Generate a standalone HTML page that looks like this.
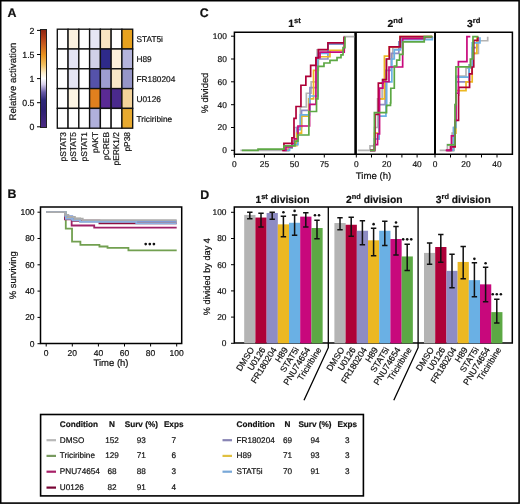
<!DOCTYPE html><html><head><meta charset="utf-8"><style>html,body{margin:0;padding:0;background:#fff;width:520px;height:504px;overflow:hidden}svg{display:block;will-change:transform}text{font-family:"Liberation Sans",sans-serif;fill:#111;stroke:#111;stroke-width:0.2px;text-rendering:geometricPrecision}</style></head><body>
<div id="w"><svg width="520" height="504" viewBox="0 0 520 504">
<rect x="0" y="0" width="520" height="504" fill="#fff"/>
<rect x="0.7" y="0.7" width="518.4" height="502.4" fill="none" stroke="#000" stroke-width="1.6"/>
<text x="7.6" y="17" font-size="12.4" font-weight="bold">A</text>
<text x="7.4" y="198" font-size="12.4" font-weight="bold">B</text>
<text x="199.8" y="17.2" font-size="12.4" font-weight="bold">C</text>
<text x="200.3" y="198.7" font-size="12.4" font-weight="bold">D</text>
<defs><linearGradient id="cb" x1="0" y1="0" x2="0" y2="1"><stop offset="0" stop-color="#8a2410"/><stop offset="0.08" stop-color="#b03c18"/><stop offset="0.18" stop-color="#d06a20"/><stop offset="0.26" stop-color="#e8921e"/><stop offset="0.36" stop-color="#f2c060"/><stop offset="0.44" stop-color="#fcecc8"/><stop offset="0.5" stop-color="#ffffff"/><stop offset="0.56" stop-color="#d8d0ec"/><stop offset="0.64" stop-color="#6a5ca8"/><stop offset="0.72" stop-color="#2e2878"/><stop offset="0.82" stop-color="#2c2070"/><stop offset="1" stop-color="#4c2a84"/></linearGradient></defs>
<rect x="40.5" y="29.5" width="6" height="98" fill="url(#cb)" stroke="#222" stroke-width="1"/>
<line x1="37" y1="126.8" x2="40.5" y2="126.8" stroke="#000" stroke-width="1"/>
<text x="34.5" y="129.9" font-size="8.8" text-anchor="end">0</text>
<line x1="37" y1="102.7" x2="40.5" y2="102.7" stroke="#000" stroke-width="1"/>
<text x="34.5" y="105.8" font-size="8.8" text-anchor="end">0.5</text>
<line x1="37" y1="78.6" x2="40.5" y2="78.6" stroke="#000" stroke-width="1"/>
<text x="34.5" y="81.7" font-size="8.8" text-anchor="end">1</text>
<line x1="37" y1="54.5" x2="40.5" y2="54.5" stroke="#000" stroke-width="1"/>
<text x="34.5" y="57.6" font-size="8.8" text-anchor="end">1.5</text>
<line x1="37" y1="30.4" x2="40.5" y2="30.4" stroke="#000" stroke-width="1"/>
<text x="34.5" y="33.5" font-size="8.8" text-anchor="end">2</text>
<text transform="translate(16.3,81.5) rotate(-90)" font-size="9.6" text-anchor="middle">Relative activation</text>
<rect x="57.30" y="29.20" width="10.77" height="19.80" fill="#ffffff" stroke="#111" stroke-width="1.35"/>
<rect x="68.07" y="29.20" width="10.77" height="19.80" fill="#faf1e0" stroke="#111" stroke-width="1.35"/>
<rect x="78.84" y="29.20" width="10.77" height="19.80" fill="#ffffff" stroke="#111" stroke-width="1.35"/>
<rect x="89.61" y="29.20" width="10.77" height="19.80" fill="#e6e6f4" stroke="#111" stroke-width="1.35"/>
<rect x="100.38" y="29.20" width="10.77" height="19.80" fill="#f8e4c2" stroke="#111" stroke-width="1.35"/>
<rect x="111.15" y="29.20" width="10.77" height="19.80" fill="#ffffff" stroke="#111" stroke-width="1.35"/>
<rect x="121.92" y="29.20" width="10.77" height="19.80" fill="#e8a21e" stroke="#111" stroke-width="1.35"/>
<rect x="57.30" y="49.00" width="10.77" height="19.80" fill="#ffffff" stroke="#111" stroke-width="1.35"/>
<rect x="68.07" y="49.00" width="10.77" height="19.80" fill="#e2e2f2" stroke="#111" stroke-width="1.35"/>
<rect x="78.84" y="49.00" width="10.77" height="19.80" fill="#ffffff" stroke="#111" stroke-width="1.35"/>
<rect x="89.61" y="49.00" width="10.77" height="19.80" fill="#d0d0e8" stroke="#111" stroke-width="1.35"/>
<rect x="100.38" y="49.00" width="10.77" height="19.80" fill="#2e2a8a" stroke="#111" stroke-width="1.35"/>
<rect x="111.15" y="49.00" width="10.77" height="19.80" fill="#fcf0da" stroke="#111" stroke-width="1.35"/>
<rect x="121.92" y="49.00" width="10.77" height="19.80" fill="#b4b4dc" stroke="#111" stroke-width="1.35"/>
<rect x="57.30" y="68.80" width="10.77" height="19.80" fill="#ffffff" stroke="#111" stroke-width="1.35"/>
<rect x="68.07" y="68.80" width="10.77" height="19.80" fill="#e4e4f2" stroke="#111" stroke-width="1.35"/>
<rect x="78.84" y="68.80" width="10.77" height="19.80" fill="#ffffff" stroke="#111" stroke-width="1.35"/>
<rect x="89.61" y="68.80" width="10.77" height="19.80" fill="#5552aa" stroke="#111" stroke-width="1.35"/>
<rect x="100.38" y="68.80" width="10.77" height="19.80" fill="#9e9ed0" stroke="#111" stroke-width="1.35"/>
<rect x="111.15" y="68.80" width="10.77" height="19.80" fill="#f8e8c8" stroke="#111" stroke-width="1.35"/>
<rect x="121.92" y="68.80" width="10.77" height="19.80" fill="#9696c8" stroke="#111" stroke-width="1.35"/>
<rect x="57.30" y="88.60" width="10.77" height="19.80" fill="#ffffff" stroke="#111" stroke-width="1.35"/>
<rect x="68.07" y="88.60" width="10.77" height="19.80" fill="#fcf4e2" stroke="#111" stroke-width="1.35"/>
<rect x="78.84" y="88.60" width="10.77" height="19.80" fill="#ffffff" stroke="#111" stroke-width="1.35"/>
<rect x="89.61" y="88.60" width="10.77" height="19.80" fill="#e0801e" stroke="#111" stroke-width="1.35"/>
<rect x="100.38" y="88.60" width="10.77" height="19.80" fill="#5a2a94" stroke="#111" stroke-width="1.35"/>
<rect x="111.15" y="88.60" width="10.77" height="19.80" fill="#4a2a8c" stroke="#111" stroke-width="1.35"/>
<rect x="121.92" y="88.60" width="10.77" height="19.80" fill="#f4d39a" stroke="#111" stroke-width="1.35"/>
<rect x="57.30" y="108.40" width="10.77" height="19.80" fill="#ffffff" stroke="#111" stroke-width="1.35"/>
<rect x="68.07" y="108.40" width="10.77" height="19.80" fill="#ffffff" stroke="#111" stroke-width="1.35"/>
<rect x="78.84" y="108.40" width="10.77" height="19.80" fill="#ffffff" stroke="#111" stroke-width="1.35"/>
<rect x="89.61" y="108.40" width="10.77" height="19.80" fill="#b0b0dc" stroke="#111" stroke-width="1.35"/>
<rect x="100.38" y="108.40" width="10.77" height="19.80" fill="#ffffff" stroke="#111" stroke-width="1.35"/>
<rect x="111.15" y="108.40" width="10.77" height="19.80" fill="#ffffff" stroke="#111" stroke-width="1.35"/>
<rect x="121.92" y="108.40" width="10.77" height="19.80" fill="#e8aa30" stroke="#111" stroke-width="1.35"/>
<text x="136.5" y="42.4" font-size="8.3">STAT5i</text>
<text x="136.5" y="62.2" font-size="8.3">H89</text>
<text x="136.5" y="82.0" font-size="8.3">FR180204</text>
<text x="136.5" y="101.8" font-size="8.3">U0126</text>
<text x="136.5" y="121.6" font-size="8.3">Triciribine</text>
<text transform="translate(65.6,132) rotate(-90)" font-size="8.4" text-anchor="end">pSTAT3</text>
<text transform="translate(76.4,132) rotate(-90)" font-size="8.4" text-anchor="end">pSTAT5</text>
<text transform="translate(87.1,132) rotate(-90)" font-size="8.4" text-anchor="end">pSTAT1</text>
<text transform="translate(97.9,132) rotate(-90)" font-size="8.4" text-anchor="end">pAKT</text>
<text transform="translate(108.7,132) rotate(-90)" font-size="8.4" text-anchor="end">pCREB</text>
<text transform="translate(119.4,132) rotate(-90)" font-size="8.4" text-anchor="end">pERK1/2</text>
<text transform="translate(130.2,132) rotate(-90)" font-size="8.4" text-anchor="end">pP38</text>
<path d="M40.5,207 V343.4 H181.7 V207 Z" fill="none" stroke="#000" stroke-width="1.5"/>
<line x1="37.5" y1="343.7" x2="40.5" y2="343.7" stroke="#000" stroke-width="1"/>
<text x="34.6" y="346.6" font-size="8.5" text-anchor="end">0</text>
<line x1="46.2" y1="343.4" x2="46.2" y2="346.5" stroke="#000" stroke-width="1"/>
<text x="46.2" y="356.2" font-size="8.5" text-anchor="middle">0</text>
<line x1="37.5" y1="317.4" x2="40.5" y2="317.4" stroke="#000" stroke-width="1"/>
<text x="34.6" y="320.3" font-size="8.5" text-anchor="end">20</text>
<line x1="72.3" y1="343.4" x2="72.3" y2="346.5" stroke="#000" stroke-width="1"/>
<text x="72.3" y="356.2" font-size="8.5" text-anchor="middle">20</text>
<line x1="37.5" y1="291.1" x2="40.5" y2="291.1" stroke="#000" stroke-width="1"/>
<text x="34.6" y="294.0" font-size="8.5" text-anchor="end">40</text>
<line x1="98.4" y1="343.4" x2="98.4" y2="346.5" stroke="#000" stroke-width="1"/>
<text x="98.4" y="356.2" font-size="8.5" text-anchor="middle">40</text>
<line x1="37.5" y1="264.8" x2="40.5" y2="264.8" stroke="#000" stroke-width="1"/>
<text x="34.6" y="267.7" font-size="8.5" text-anchor="end">60</text>
<line x1="124.5" y1="343.4" x2="124.5" y2="346.5" stroke="#000" stroke-width="1"/>
<text x="124.5" y="356.2" font-size="8.5" text-anchor="middle">60</text>
<line x1="37.5" y1="238.5" x2="40.5" y2="238.5" stroke="#000" stroke-width="1"/>
<text x="34.6" y="241.4" font-size="8.5" text-anchor="end">80</text>
<line x1="150.6" y1="343.4" x2="150.6" y2="346.5" stroke="#000" stroke-width="1"/>
<text x="150.6" y="356.2" font-size="8.5" text-anchor="middle">80</text>
<line x1="37.5" y1="212.2" x2="40.5" y2="212.2" stroke="#000" stroke-width="1"/>
<text x="34.6" y="215.1" font-size="8.5" text-anchor="end">100</text>
<line x1="176.7" y1="343.4" x2="176.7" y2="346.5" stroke="#000" stroke-width="1"/>
<text x="176.7" y="356.2" font-size="8.5" text-anchor="middle">100</text>
<text x="111" y="366" font-size="9.5" text-anchor="middle">Time (h)</text>
<text transform="translate(16,275.2) rotate(-90)" font-size="9.4" text-anchor="middle">% surviving</text>
<path d="M46.20,212.20H65.78V228.64H72.04V241.66H80.39V244.81H99.44V246.52H107.53V247.97H128.41V250.33H176.70V250.33" fill="none" stroke="#72a050" stroke-width="1.8"/>
<path d="M46.20,212.20H64.99V219.43H71.65V225.48H94.22V227.72H176.70V227.72" fill="none" stroke="#a02068" stroke-width="1.8"/>
<path d="M46.20,212.20H64.99V218.77H72.04V220.75H99.44V223.25H176.70V223.25" fill="none" stroke="#8c1040" stroke-width="1.8"/>
<path d="M46.20,212.20H65.78V216.80H72.30V218.77H80.13V221.40H176.70V221.40" fill="none" stroke="#d8b040" stroke-width="1.8"/>
<path d="M46.20,212.20H65.25V216.14H72.30V218.77H80.13V221.40H176.70V221.40" fill="none" stroke="#809cd8" stroke-width="1.8"/>
<path d="M46.20,212.20H65.78V218.77H72.30V220.35H80.13V221.93H136.25V223.38H176.70V223.38" fill="none" stroke="#8cb0e0" stroke-width="1.8"/>
<path d="M46.20,212.20H64.99V214.83H68.39V216.80H74.91V218.77H82.74V220.09H176.70V220.09" fill="none" stroke="#acacac" stroke-width="1.8"/>
<circle cx="145.7" cy="244.1" r="1.35" fill="#111"/>
<circle cx="149.8" cy="244.1" r="1.35" fill="#111"/>
<circle cx="153.9" cy="244.1" r="1.35" fill="#111"/>
<path d="M234.4,32.2 V154.2 H512.4 V32.2 Z" fill="none" stroke="#000" stroke-width="1.5"/>
<line x1="355.6" y1="32" x2="355.6" y2="154.2" stroke="#000" stroke-width="2.6"/>
<line x1="435" y1="32" x2="435" y2="154.2" stroke="#000" stroke-width="2"/>
<line x1="231" y1="150.3" x2="234.4" y2="150.3" stroke="#000" stroke-width="1"/>
<text x="226.8" y="153.2" font-size="8.4" text-anchor="end">0</text>
<line x1="231" y1="127.5" x2="234.4" y2="127.5" stroke="#000" stroke-width="1"/>
<text x="226.8" y="130.4" font-size="8.4" text-anchor="end">20</text>
<line x1="231" y1="104.7" x2="234.4" y2="104.7" stroke="#000" stroke-width="1"/>
<text x="226.8" y="107.6" font-size="8.4" text-anchor="end">40</text>
<line x1="231" y1="81.8" x2="234.4" y2="81.8" stroke="#000" stroke-width="1"/>
<text x="226.8" y="84.7" font-size="8.4" text-anchor="end">60</text>
<line x1="231" y1="59.0" x2="234.4" y2="59.0" stroke="#000" stroke-width="1"/>
<text x="226.8" y="61.9" font-size="8.4" text-anchor="end">80</text>
<line x1="231" y1="36.2" x2="234.4" y2="36.2" stroke="#000" stroke-width="1"/>
<text x="226.8" y="39.1" font-size="8.4" text-anchor="end">100</text>
<line x1="234.4" y1="154.2" x2="234.4" y2="157.5" stroke="#000" stroke-width="1"/>
<text x="234.4" y="167.2" font-size="8.4" text-anchor="middle">0</text>
<line x1="264.4" y1="154.2" x2="264.4" y2="157.5" stroke="#000" stroke-width="1"/>
<text x="264.4" y="167.2" font-size="8.4" text-anchor="middle">25</text>
<line x1="294.4" y1="154.2" x2="294.4" y2="157.5" stroke="#000" stroke-width="1"/>
<text x="294.4" y="167.2" font-size="8.4" text-anchor="middle">50</text>
<line x1="324.3" y1="154.2" x2="324.3" y2="157.5" stroke="#000" stroke-width="1"/>
<text x="324.3" y="167.2" font-size="8.4" text-anchor="middle">75</text>
<line x1="356.3" y1="154.2" x2="356.3" y2="157.5" stroke="#000" stroke-width="1"/>
<text x="356.3" y="167.2" font-size="8.4" text-anchor="middle">0</text>
<line x1="371.5" y1="154.2" x2="371.5" y2="157.5" stroke="#000" stroke-width="1"/>
<line x1="386.7" y1="154.2" x2="386.7" y2="157.5" stroke="#000" stroke-width="1"/>
<text x="386.7" y="167.2" font-size="8.4" text-anchor="middle">20</text>
<line x1="401.9" y1="154.2" x2="401.9" y2="157.5" stroke="#000" stroke-width="1"/>
<line x1="417.1" y1="154.2" x2="417.1" y2="157.5" stroke="#000" stroke-width="1"/>
<text x="417.1" y="167.2" font-size="8.4" text-anchor="middle">40</text>
<line x1="435.0" y1="154.2" x2="435.0" y2="157.5" stroke="#000" stroke-width="1"/>
<text x="435.0" y="167.2" font-size="8.4" text-anchor="middle">0</text>
<line x1="450.5" y1="154.2" x2="450.5" y2="157.5" stroke="#000" stroke-width="1"/>
<line x1="466.0" y1="154.2" x2="466.0" y2="157.5" stroke="#000" stroke-width="1"/>
<text x="466.0" y="167.2" font-size="8.4" text-anchor="middle">20</text>
<line x1="481.5" y1="154.2" x2="481.5" y2="157.5" stroke="#000" stroke-width="1"/>
<line x1="497.0" y1="154.2" x2="497.0" y2="157.5" stroke="#000" stroke-width="1"/>
<text x="497.0" y="167.2" font-size="8.4" text-anchor="middle">40</text>
<text x="373.5" y="179" font-size="9.6" text-anchor="middle">Time (h)</text>
<text transform="translate(207.8,93) rotate(-90)" font-size="9.4" text-anchor="middle">% divided</text>
<text x="288.3" y="26.8" font-size="10.4" font-weight="bold">1<tspan font-size="7.6" dy="-4.2">st</tspan></text>
<text x="387.5" y="26.8" font-size="10.4" font-weight="bold">2<tspan font-size="7.6" dy="-4.2">nd</tspan></text>
<text x="467" y="26.8" font-size="10.4" font-weight="bold">3<tspan font-size="7.6" dy="-4.2">rd</tspan></text>
<path d="M240.40,150.30H282.36V150.30H288.36V146.88H291.95V141.17H294.35V127.48H300.35V106.94H306.34V93.25H311.14V81.84H317.13V49.89H327.92V43.05H344.23V36.66H354.30V36.66" fill="none" stroke="#b4b4b4" stroke-width="1.7"/>
<path d="M284.76,150.30H288.36V148.02H291.95V144.59H296.75V127.48H301.54V110.37H309.94V87.55H317.13V59.02H327.92V44.19H344.23V37.34" fill="none" stroke="#8e8cc4" stroke-width="1.7"/>
<path d="M284.76,150.30H288.36V148.02H291.95V145.74H296.75V133.19H301.54V116.07H308.74V98.96H313.53V70.43H318.33V56.74H329.96V50.23H344.23V37.34" fill="none" stroke="#ecb822" stroke-width="1.7"/>
<path d="M284.76,150.30H289.55V148.02H291.95V144.59H297.95V129.76H300.35V114.93H309.58V95.99H317.97V53.32H327.92V43.50H344.23V37.34" fill="none" stroke="#6ab0e4" stroke-width="1.7"/>
<path d="M282.36,150.30H285.96V146.88H291.95V143.45H294.35V138.89H297.95V126.00H309.58V104.43H315.93V57.65H320.01V52.17H344.23V36.77" fill="none" stroke="#c8087c" stroke-width="1.7"/>
<path d="M282.36,150.30H283.92V143.45H291.95V137.75H293.99V118.35H296.03V106.49H300.94V85.26H305.86V76.36H310.66V65.30H315.93V57.88H318.33V49.55H327.92V42.82H344.23V36.66" fill="none" stroke="#ae0038" stroke-width="1.7"/>
<path d="M241.95,150.30H258.02V149.16H283.92V145.96H294.95V141.17H297.95V135.01H308.86V111.51H316.53V98.96H317.97V66.32H323.97V63.01H329.96V60.28H337.03V57.65H340.99V54.91H343.03V47.61H344.95V36.66" fill="none" stroke="#5ca844" stroke-width="1.7"/>
<path d="M357.82,150.30H369.98V145.96H374.54V127.48H377.58V98.96H382.14V79.56H386.70V59.02H392.78V47.61H401.90V37.34H432.30V36.66" fill="none" stroke="#b4b4b4" stroke-width="1.7"/>
<path d="M369.98,150.30H374.54V138.89H379.10V104.66H385.18V70.43H391.26V53.32H398.86V41.91H401.90V37.34H432.30V36.66" fill="none" stroke="#8e8cc4" stroke-width="1.7"/>
<path d="M369.98,150.30H374.54V133.19H379.10V98.96H384.42V56.17H389.28V46.81H400.08V36.66H432.30V36.66" fill="none" stroke="#ecb822" stroke-width="1.7"/>
<path d="M369.98,150.30H374.54V138.89H379.10V116.07H385.94V105.80H386.70V81.84H391.87V59.02H394.30V49.89H400.38V39.62H432.30V36.66" fill="none" stroke="#6ab0e4" stroke-width="1.7"/>
<path d="M369.98,150.30H374.54V144.59H375.00V114.47H378.34V83.21H382.90V79.56H386.40V59.02H389.28V46.81H400.08V36.66H432.30V36.66" fill="none" stroke="#ae0038" stroke-width="1.7"/>
<path d="M369.98,150.30H374.54V144.59H377.58V133.87H379.56V88.12H382.90V81.73H388.98V67.01H402.66V38.71H423.18V38.71H424.70V36.66" fill="none" stroke="#c8087c" stroke-width="1.7"/>
<path d="M369.98,150.30H374.39V112.65H386.55V105.46H390.50V102.95H390.80V88.23H394.30V66.09H396.73V60.16H399.62V54.46H402.96V41.91H424.24V36.66H432.30V36.66" fill="none" stroke="#5ca844" stroke-width="1.7"/>
<path d="M439.65,150.30H447.40V144.59H452.05V133.19H455.15V104.66H455.93V76.14H466.00V68.15H472.20V53.32H478.40V40.76H487.70V36.66" fill="none" stroke="#b4b4b4" stroke-width="1.7"/>
<path d="M447.40,150.30H453.60V127.48H455.93V81.84H469.10V64.73H472.20V47.61H476.85V37.34" fill="none" stroke="#8e8cc4" stroke-width="1.7"/>
<path d="M447.40,150.30H453.60V133.19H455.93V90.63H466.00V81.84H472.20V53.32H476.85V37.34" fill="none" stroke="#ecb822" stroke-width="1.7"/>
<path d="M447.40,150.30H453.60V127.48H455.93V77.05H469.10V67.35H472.20V42.93H479.95V37.34" fill="none" stroke="#6ab0e4" stroke-width="1.7"/>
<path d="M445.85,150.30H450.50V146.88H455.15V120.29H458.56V95.19H458.72V87.43H469.56V73.85H472.05V67.01H473.75V40.31H477.94V36.66" fill="none" stroke="#ae0038" stroke-width="1.7"/>
<path d="M445.85,150.30H451.43V135.81H455.00V120.29H455.93V93.25H458.40V61.64H466.93V36.66H470.34V36.66" fill="none" stroke="#c8087c" stroke-width="1.7"/>
<path d="M446.94,144.82H455.00V104.66H455.93V66.78H470.34V59.02H472.98V36.66H478.40V36.66" fill="none" stroke="#5ca844" stroke-width="1.7"/>
<path d="M234.3,207.1 V343.1 H512.3 V207.1 Z" fill="none" stroke="#000" stroke-width="1.5"/>
<path d="M328.3,207.1 V347.7 L304,400.2" fill="none" stroke="#000" stroke-width="1.3"/>
<path d="M418.1,207.1 V347.7 L393.8,400.2" fill="none" stroke="#000" stroke-width="1.3"/>
<line x1="231" y1="343.3" x2="234.6" y2="343.3" stroke="#000" stroke-width="1"/>
<text x="226.5" y="346.2" font-size="8.4" text-anchor="end">0</text>
<line x1="231" y1="317.1" x2="234.6" y2="317.1" stroke="#000" stroke-width="1"/>
<text x="226.5" y="320.0" font-size="8.4" text-anchor="end">20</text>
<line x1="231" y1="290.9" x2="234.6" y2="290.9" stroke="#000" stroke-width="1"/>
<text x="226.5" y="293.8" font-size="8.4" text-anchor="end">40</text>
<line x1="231" y1="264.7" x2="234.6" y2="264.7" stroke="#000" stroke-width="1"/>
<text x="226.5" y="267.6" font-size="8.4" text-anchor="end">60</text>
<line x1="231" y1="238.5" x2="234.6" y2="238.5" stroke="#000" stroke-width="1"/>
<text x="226.5" y="241.4" font-size="8.4" text-anchor="end">80</text>
<line x1="231" y1="212.3" x2="234.6" y2="212.3" stroke="#000" stroke-width="1"/>
<text x="226.5" y="215.2" font-size="8.4" text-anchor="end">100</text>
<text transform="translate(209.8,276.6) rotate(-90)" font-size="9.2" text-anchor="middle">% divided by day 4</text>
<text x="255.4" y="203" font-size="10.3" font-weight="bold">1<tspan font-size="7.4" dy="-4.1">st</tspan><tspan dy="4.1"> division</tspan></text>
<text x="346" y="203" font-size="10.3" font-weight="bold">2<tspan font-size="7.4" dy="-4.1">nd</tspan><tspan dy="4.1"> division</tspan></text>
<text x="435.8" y="203" font-size="10.3" font-weight="bold">3<tspan font-size="7.4" dy="-4.1">rd</tspan><tspan dy="4.1"> division</tspan></text>
<rect x="244.20" y="214.92" width="11.25" height="128.38" fill="#b4b4b4"/>
<rect x="255.40" y="217.54" width="11.25" height="125.76" fill="#ae0038"/>
<rect x="266.60" y="212.96" width="11.25" height="130.34" fill="#8e8cc4"/>
<rect x="277.80" y="224.35" width="11.25" height="118.95" fill="#ecb822"/>
<rect x="289.00" y="222.78" width="11.25" height="120.52" fill="#6ab0e4"/>
<rect x="300.20" y="216.62" width="11.25" height="126.68" fill="#c8087c"/>
<rect x="311.40" y="228.02" width="11.25" height="115.28" fill="#5ca844"/>
<path d="M247.10,212.30H252.50M249.80,212.30V218.85M247.10,218.85H252.50" stroke="#111" stroke-width="1.5" fill="none"/>
<path d="M258.30,213.35H263.70M261.00,213.35V227.10M258.30,227.10H263.70" stroke="#111" stroke-width="1.5" fill="none"/>
<path d="M269.50,212.30H274.90M272.20,212.30V219.24M269.50,219.24H274.90" stroke="#111" stroke-width="1.5" fill="none"/>
<path d="M280.70,216.23H286.10M283.40,216.23V236.67M280.70,236.67H286.10" stroke="#111" stroke-width="1.5" fill="none"/>
<circle cx="283.40" cy="212.23" r="1.3" fill="#111"/>
<path d="M291.90,214.92H297.30M294.60,214.92V235.36M291.90,235.36H297.30" stroke="#111" stroke-width="1.5" fill="none"/>
<circle cx="294.60" cy="210.92" r="1.3" fill="#111"/>
<path d="M303.10,212.82H308.50M305.80,212.82V227.10M303.10,227.10H308.50" stroke="#111" stroke-width="1.5" fill="none"/>
<path d="M314.30,220.16H319.70M317.00,220.16V238.76M314.30,238.76H319.70" stroke="#111" stroke-width="1.5" fill="none"/>
<circle cx="314.98" cy="215.26" r="1.3" fill="#111"/>
<circle cx="319.02" cy="215.26" r="1.3" fill="#111"/>
<text transform="translate(254.60,349.6) rotate(-58)" font-size="8.7" text-anchor="end">DMSO</text>
<text transform="translate(265.80,349.6) rotate(-58)" font-size="8.7" text-anchor="end">U0126</text>
<text transform="translate(277.00,349.6) rotate(-58)" font-size="8.7" text-anchor="end">FR180204</text>
<text transform="translate(288.20,349.6) rotate(-58)" font-size="8.7" text-anchor="end">H89</text>
<text transform="translate(299.40,349.6) rotate(-58)" font-size="8.7" text-anchor="end">STAT5i</text>
<text transform="translate(310.60,349.6) rotate(-58)" font-size="8.7" text-anchor="end">PNU74654</text>
<text transform="translate(321.80,349.6) rotate(-58)" font-size="8.7" text-anchor="end">Triciribine</text>
<rect x="334.40" y="223.04" width="11.25" height="120.26" fill="#b4b4b4"/>
<rect x="345.60" y="224.75" width="11.25" height="118.56" fill="#ae0038"/>
<rect x="356.80" y="230.77" width="11.25" height="112.53" fill="#8e8cc4"/>
<rect x="368.00" y="240.33" width="11.25" height="102.97" fill="#ecb822"/>
<rect x="379.20" y="230.77" width="11.25" height="112.53" fill="#6ab0e4"/>
<rect x="390.40" y="239.02" width="11.25" height="104.28" fill="#c8087c"/>
<rect x="401.60" y="256.45" width="11.25" height="86.85" fill="#5ca844"/>
<path d="M337.30,217.80H342.70M340.00,217.80V229.85M337.30,229.85H342.70" stroke="#111" stroke-width="1.5" fill="none"/>
<path d="M348.50,217.28H353.90M351.20,217.28V236.27M348.50,236.27H353.90" stroke="#111" stroke-width="1.5" fill="none"/>
<path d="M359.70,220.68H365.10M362.40,220.68V244.66M359.70,244.66H365.10" stroke="#111" stroke-width="1.5" fill="none"/>
<path d="M370.90,228.15H376.30M373.60,228.15V255.79M370.90,255.79H376.30" stroke="#111" stroke-width="1.5" fill="none"/>
<circle cx="373.60" cy="224.15" r="1.3" fill="#111"/>
<path d="M382.10,221.21H387.50M384.80,221.21V245.44M382.10,245.44H387.50" stroke="#111" stroke-width="1.5" fill="none"/>
<path d="M393.30,226.45H398.70M396.00,226.45V255.01M393.30,255.01H398.70" stroke="#111" stroke-width="1.5" fill="none"/>
<circle cx="396.00" cy="222.45" r="1.3" fill="#111"/>
<path d="M404.50,244.26H409.90M407.20,244.26V270.60M404.50,270.60H409.90" stroke="#111" stroke-width="1.5" fill="none"/>
<circle cx="403.15" cy="239.36" r="1.3" fill="#111"/>
<circle cx="407.20" cy="239.36" r="1.3" fill="#111"/>
<circle cx="411.25" cy="239.36" r="1.3" fill="#111"/>
<text transform="translate(344.80,349.6) rotate(-58)" font-size="8.7" text-anchor="end">DMSO</text>
<text transform="translate(356.00,349.6) rotate(-58)" font-size="8.7" text-anchor="end">U0126</text>
<text transform="translate(367.20,349.6) rotate(-58)" font-size="8.7" text-anchor="end">FR180204</text>
<text transform="translate(378.40,349.6) rotate(-58)" font-size="8.7" text-anchor="end">H89</text>
<text transform="translate(389.60,349.6) rotate(-58)" font-size="8.7" text-anchor="end">STAT5i</text>
<text transform="translate(400.80,349.6) rotate(-58)" font-size="8.7" text-anchor="end">PNU74654</text>
<text transform="translate(412.00,349.6) rotate(-58)" font-size="8.7" text-anchor="end">Triciribine</text>
<rect x="424.00" y="252.91" width="11.25" height="90.39" fill="#b4b4b4"/>
<rect x="435.20" y="247.01" width="11.25" height="96.29" fill="#ae0038"/>
<rect x="446.40" y="270.86" width="11.25" height="72.44" fill="#8e8cc4"/>
<rect x="457.60" y="261.95" width="11.25" height="81.35" fill="#ecb822"/>
<rect x="468.80" y="280.16" width="11.25" height="63.14" fill="#6ab0e4"/>
<rect x="480.00" y="284.35" width="11.25" height="58.95" fill="#c8087c"/>
<rect x="491.20" y="312.12" width="11.25" height="31.18" fill="#5ca844"/>
<path d="M426.90,242.95H432.30M429.60,242.95V264.31M426.90,264.31H432.30" stroke="#111" stroke-width="1.5" fill="none"/>
<path d="M438.10,234.57H443.50M440.80,234.57V262.34M438.10,262.34H443.50" stroke="#111" stroke-width="1.5" fill="none"/>
<path d="M449.30,254.35H454.70M452.00,254.35V287.76M449.30,287.76H454.70" stroke="#111" stroke-width="1.5" fill="none"/>
<path d="M460.50,246.49H465.90M463.20,246.49V278.85M460.50,278.85H465.90" stroke="#111" stroke-width="1.5" fill="none"/>
<path d="M471.70,262.87H477.10M474.40,262.87V296.66M471.70,296.66H477.10" stroke="#111" stroke-width="1.5" fill="none"/>
<circle cx="474.40" cy="258.87" r="1.3" fill="#111"/>
<path d="M482.90,267.32H488.30M485.60,267.32V301.64M482.90,301.64H488.30" stroke="#111" stroke-width="1.5" fill="none"/>
<circle cx="485.60" cy="263.32" r="1.3" fill="#111"/>
<path d="M494.10,299.15H499.50M496.80,299.15V323.00M494.10,323.00H499.50" stroke="#111" stroke-width="1.5" fill="none"/>
<circle cx="492.75" cy="294.25" r="1.3" fill="#111"/>
<circle cx="496.80" cy="294.25" r="1.3" fill="#111"/>
<circle cx="500.85" cy="294.25" r="1.3" fill="#111"/>
<text transform="translate(434.40,349.6) rotate(-58)" font-size="8.7" text-anchor="end">DMSO</text>
<text transform="translate(445.60,349.6) rotate(-58)" font-size="8.7" text-anchor="end">U0126</text>
<text transform="translate(456.80,349.6) rotate(-58)" font-size="8.7" text-anchor="end">FR180204</text>
<text transform="translate(468.00,349.6) rotate(-58)" font-size="8.7" text-anchor="end">H89</text>
<text transform="translate(479.20,349.6) rotate(-58)" font-size="8.7" text-anchor="end">STAT5i</text>
<text transform="translate(490.40,349.6) rotate(-58)" font-size="8.7" text-anchor="end">PNU74654</text>
<text transform="translate(501.60,349.6) rotate(-58)" font-size="8.7" text-anchor="end">Triciribine</text>
<rect x="40.6" y="414.5" width="322.8" height="81.4" fill="none" stroke="#000" stroke-width="1.6"/>
<text x="59.8" y="427" font-size="8.2" font-weight="bold">Condition</text>
<text x="112" y="427" font-size="8.2" font-weight="bold" text-anchor="middle">N</text>
<text x="141.3" y="427" font-size="8.2" font-weight="bold" text-anchor="middle">Surv (%)</text>
<text x="173.7" y="427" font-size="8.2" font-weight="bold" text-anchor="middle">Exps</text>
<line x1="46.5" y1="440.2" x2="56.0" y2="440.2" stroke="#b8b8b8" stroke-width="2.2"/>
<text x="59.8" y="442.7" font-size="8.2">DMSO</text>
<text x="112" y="442.7" font-size="8.2" text-anchor="middle">152</text>
<text x="141.3" y="442.7" font-size="8.2" text-anchor="middle">93</text>
<text x="173.7" y="442.7" font-size="8.2" text-anchor="middle">7</text>
<line x1="46.5" y1="455.9" x2="56.0" y2="455.9" stroke="#789a60" stroke-width="2.2"/>
<text x="59.8" y="458.4" font-size="8.2">Triciribine</text>
<text x="112" y="458.4" font-size="8.2" text-anchor="middle">129</text>
<text x="141.3" y="458.4" font-size="8.2" text-anchor="middle">71</text>
<text x="173.7" y="458.4" font-size="8.2" text-anchor="middle">6</text>
<line x1="46.5" y1="471.7" x2="56.0" y2="471.7" stroke="#a82068" stroke-width="2.2"/>
<text x="59.8" y="474.2" font-size="8.2">PNU74654</text>
<text x="112" y="474.2" font-size="8.2" text-anchor="middle">68</text>
<text x="141.3" y="474.2" font-size="8.2" text-anchor="middle">88</text>
<text x="173.7" y="474.2" font-size="8.2" text-anchor="middle">3</text>
<line x1="46.5" y1="487.6" x2="56.0" y2="487.6" stroke="#780434" stroke-width="2.2"/>
<text x="59.8" y="490.1" font-size="8.2">U0126</text>
<text x="112" y="490.1" font-size="8.2" text-anchor="middle">82</text>
<text x="141.3" y="490.1" font-size="8.2" text-anchor="middle">91</text>
<text x="173.7" y="490.1" font-size="8.2" text-anchor="middle">4</text>
<text x="236.5" y="427" font-size="8.2" font-weight="bold">Condition</text>
<text x="287.5" y="427" font-size="8.2" font-weight="bold" text-anchor="middle">N</text>
<text x="315" y="427" font-size="8.2" font-weight="bold" text-anchor="middle">Surv (%)</text>
<text x="347.3" y="427" font-size="8.2" font-weight="bold" text-anchor="middle">Exps</text>
<line x1="222.5" y1="440.2" x2="232.0" y2="440.2" stroke="#8884b4" stroke-width="2.2"/>
<text x="236.5" y="442.7" font-size="8.2">FR180204</text>
<text x="287.5" y="442.7" font-size="8.2" text-anchor="middle">69</text>
<text x="315" y="442.7" font-size="8.2" text-anchor="middle">94</text>
<text x="347.3" y="442.7" font-size="8.2" text-anchor="middle">3</text>
<line x1="222.5" y1="455.9" x2="232.0" y2="455.9" stroke="#e0c040" stroke-width="2.2"/>
<text x="236.5" y="458.4" font-size="8.2">H89</text>
<text x="287.5" y="458.4" font-size="8.2" text-anchor="middle">71</text>
<text x="315" y="458.4" font-size="8.2" text-anchor="middle">93</text>
<text x="347.3" y="458.4" font-size="8.2" text-anchor="middle">3</text>
<line x1="222.5" y1="471.7" x2="232.0" y2="471.7" stroke="#78a8d8" stroke-width="2.2"/>
<text x="236.5" y="474.2" font-size="8.2">STAT5i</text>
<text x="287.5" y="474.2" font-size="8.2" text-anchor="middle">70</text>
<text x="315" y="474.2" font-size="8.2" text-anchor="middle">91</text>
<text x="347.3" y="474.2" font-size="8.2" text-anchor="middle">3</text>
</svg></div></body></html>
